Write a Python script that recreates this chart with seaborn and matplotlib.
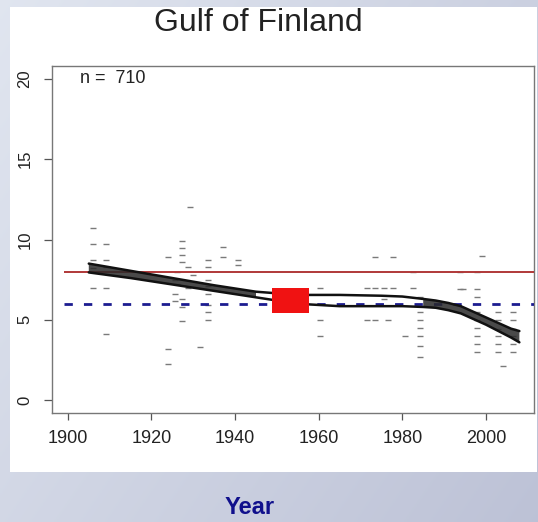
import numpy as np
import matplotlib
matplotlib.use('Agg')
import matplotlib.pyplot as plt
from matplotlib.patches import Rectangle
import pandas as pd
import seaborn as sns

obs_year = [1906, 1906, 1906, 1906, 1906, 1906,
            1909, 1909, 1909, 1909, 1909,
            1924, 1924, 1924,
            1925.6, 1925.6, 1925.6, 1926, 1926,
            1927.3, 1927.3, 1927.3, 1927.3, 1927.3, 1927.3, 1927.3,
            1928.7, 1928.7, 1929.2, 1929.9, 1931.6,
            1933.5, 1933.5, 1933.5, 1933.5, 1933.5, 1933.5, 1933.5, 1933.5,
            1937, 1937, 1940.7, 1940.7,
            1960.3, 1960.3, 1960.3,
            1971.5, 1971.5, 1973.4, 1973.4, 1973.4, 1975.5, 1975.5, 1976.6,
            1977.8, 1977.8, 1980.6, 1982.5, 1982.5,
            1984.2, 1984.2, 1984.2, 1984.2, 1984.2, 1984.2, 1984.2,
            1993.8, 1993.8, 1994.5,
            1997.8, 1997.8, 1997.8, 1997.8, 1997.8, 1997.8, 1997.8, 1997.8, 1997.8,
            1999,
            2002.9, 2002.9, 2002.9, 2002.9, 2002.9, 2002.9,
            2004,
            2006.5, 2006.5, 2006.5, 2006.5, 2006.5, 2006.5]
obs_value = [10.7, 9.75, 8.7, 8.2, 7.0, 8.0,
             9.75, 8.7, 7.0, 4.1, 8.3,
             8.9, 3.2, 2.25,
             6.6, 6.15, 7.5, 8.0, 7.2,
             9.9, 9.5, 9.05, 8.6, 5.8, 4.9, 6.3,
             8.3, 7.0, 12.0, 7.8, 3.3,
             8.75, 8.3, 7.5, 6.6, 5.95, 5.5, 5.0, 7.1,
             9.55, 8.9, 8.7, 8.4,
             6.95, 5.0, 4.0,
             6.95, 5.0, 8.9, 6.95, 5.0, 6.95, 6.3, 5.0,
             8.9, 6.95, 4.0, 6.95, 8.0,
             6.45, 5.5, 5.0, 4.5, 4.0, 3.4, 2.7,
             6.9, 8.0, 6.9,
             6.9, 6.45, 5.5, 5.0, 4.5, 4.0, 3.5, 3.0, 8.0,
             8.95,
             5.5, 5.0, 4.4, 4.0, 3.5, 3.0,
             2.1,
             5.5, 5.0, 4.4, 4.0, 3.5, 3.0]

# smoothed trend band
band_year = [1905, 1915, 1925, 1935, 1945, 1955, 1965, 1975, 1980, 1985, 1988,
             1991, 1994, 1997, 2000, 2003, 2006, 2008]
band_upper = [8.5, 8.05, 7.6, 7.15, 6.75, 6.55, 6.55, 6.5, 6.45, 6.3, 6.2,
              6.05, 5.85, 5.5, 5.15, 4.8, 4.45, 4.3]
band_lower = [7.95, 7.6, 7.2, 6.8, 6.4, 6.0, 5.85, 5.85, 5.85, 5.8, 5.75,
              5.6, 5.4, 5.05, 4.7, 4.3, 3.9, 3.6]

ref_red = 8.0
ref_blue = 6.0
mid_year = 1953.2
mid_value = 6.2
n_label = 'n =  710'

x_ticks = [1900, 1920, 1940, 1960, 1980, 2000]
y_ticks = [0, 5, 10, 15, 20]

sns.set_style('white')
plt.rcParams['font.family'] = ['Liberation Sans', 'DejaVu Sans']

fig = plt.figure(figsize=(5.38, 5.22), dpi=100)

# slide background gradient
bg = fig.add_axes([0, 0, 1, 1], zorder=-2)
gx, gy = np.meshgrid(np.linspace(0, 1, 200), np.linspace(0, 1, 200))
t = np.clip(0.6 * gx + 0.4 * gy, 0, 1)
c0 = np.array([0.88, 0.90, 0.94])
c1 = np.array([0.74, 0.76, 0.84])
img = c0[None, None, :] * (1 - t[..., None]) + c1[None, None, :] * t[..., None]
bg.imshow(img, aspect='auto', extent=[0, 1, 0, 1], origin='upper')
bg.axis('off')

# white panel
fig.patches.append(Rectangle((10 / 538, 1 - 472 / 522), 527 / 538, 465 / 522,
                             transform=fig.transFigure, facecolor='white',
                             edgecolor='none', zorder=-1))

ax = fig.add_axes([52 / 538, 1 - 413 / 522, 482 / 538, 347 / 522])
ax.set_facecolor('white')

df = pd.DataFrame({'year': obs_year, 'value': obs_value})
sns.scatterplot(data=df, x='year', y='value', marker='_', s=22, color='#7a7a7a',
                linewidth=1.0, ax=ax, zorder=2)

ax.hlines(ref_red, 1899, 2012, color='#b03838', lw=1.4, zorder=3)
ax.hlines(ref_blue, 1899, 2012, color='#1c1c90', lw=2.0, linestyles=(0, (3, 4)), zorder=3)

band = pd.DataFrame({'year': band_year, 'upper': band_upper, 'lower': band_lower})
by = np.array(band_year)
ax.fill_between(band_year, band_lower, band_upper, where=(by <= 1950) | (by >= 1985),
                interpolate=True, color='#2a2a2a', alpha=0.85, lw=0, zorder=4)
sns.lineplot(data=band, x='year', y='upper', color='#111111', lw=1.8, ax=ax, zorder=5)
sns.lineplot(data=band, x='year', y='lower', color='#111111', lw=1.8, ax=ax, zorder=5)

ax.add_patch(Rectangle((mid_year - 4.4, mid_value - 0.75), 8.8, 1.5,
                       facecolor='#f01212', edgecolor='none', zorder=6))

ax.set_xlim(1896.2, 2011.5)
ax.set_ylim(-0.8, 20.8)
ax.set_xticks(x_ticks)
ax.set_yticks(y_ticks)
ax.set_yticklabels([str(v) for v in y_ticks], rotation=90, va='center')
ax.tick_params(axis='both', direction='out', length=6, width=0.9, color='#555555',
               labelcolor='#222222')
ax.tick_params(axis='x', labelsize=13, pad=7, length=5)
ax.tick_params(axis='y', labelsize=12, pad=8)
ax.tick_params(bottom=True, left=True)
for sp in ax.spines.values():
    sp.set_color('#777777')
    sp.set_linewidth(1.0)
ax.set_xlabel('')
ax.set_ylabel('')

ax.text(1903, 20.0, n_label, fontsize=13, color='#222222', va='center', ha='left')

fig.text(258 / 538, 1 - 23 / 522, 'Gulf of Finland', fontsize=23, color='#222222',
         ha='center', va='center')
fig.text(250 / 538, 1 - 508 / 522, 'Year', fontsize=17, fontweight='bold',
         color='#10108c', ha='center', va='center')

fig.savefig('out.png', dpi=100)
